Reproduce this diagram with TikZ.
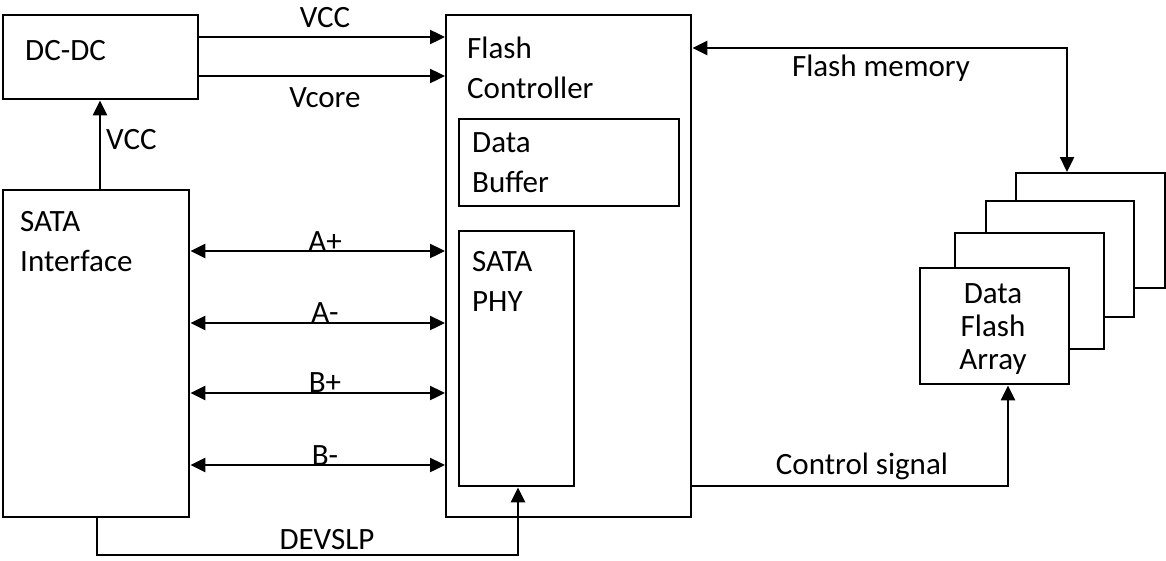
\documentclass[tikz,border=0pt]{standalone}
\usepackage{fontspec}
\setmainfont{Carlito}
\usetikzlibrary{arrows.meta}
\begin{document}
\begin{tikzpicture}[x=1pt,y=-1pt,line width=2.4pt,
  box/.style={draw,line width=2.4pt,inner sep=0pt,anchor=north west,fill=white},
  lbl/.style={font=\fontsize{31}{40}\selectfont,inner sep=0pt},
  arr/.style={-{Triangle[length=15pt,width=14pt]}},
  darr/.style={{Triangle[length=15pt,width=14pt]}-{Triangle[length=15pt,width=14pt]}}]
\useasboundingbox (0,0) rectangle (1166,560);
% boxes
\node[box,minimum width=195pt,minimum height=84pt] (dcdc) at (2,14) {};
\node[box,minimum width=186pt,minimum height=327pt] (sata) at (2,189) {};
\node[box,minimum width=245pt,minimum height=502pt] (fc) at (445,14) {};
\node[box,minimum width=220pt,minimum height=87pt] (buf) at (458,118) {};
\node[box,minimum width=115pt,minimum height=255pt] (phy) at (458,230) {};
\node[box,minimum width=149pt,minimum height=115pt] (s4) at (1015,172) {};
\node[box,minimum width=148pt,minimum height=116pt] (s3) at (985,200) {};
\node[box,minimum width=149pt,minimum height=116pt] (s2) at (954,232) {};
\node[box,minimum width=149pt,minimum height=116pt] (front) at (919,267) {};
% box texts
\node[lbl,anchor=west] (tdcdc) at (24,51) {DC-DC};
\node[lbl,anchor=north west,align=left] (tsata) at (19,210) {SATA\\Interface};
\node[lbl,anchor=north west,align=left] (tfc) at (466,36) {Flash\\Controller};
\node[lbl,anchor=north west,align=left] (tbuf) at (471,131) {Data\\Buffer};
\node[lbl,anchor=north west,align=left] (tphy) at (471,250) {SATA\\PHY};
\node[lbl,align=center,font=\fontsize{31}{33}\selectfont] (tfront) at (993,329) {Data\\Flash\\Array};
% helper coordinates
\coordinate (yvcc) at (0,37);
\coordinate (yvcore) at (0,76);
\coordinate (xv) at (100,0);
\coordinate (yap) at (0,251);
\coordinate (yam) at (0,323);
\coordinate (ybp) at (0,393);
\coordinate (ybm) at (0,465);
\coordinate (fm) at (1067,48);
\coordinate (cs) at (1008,486);
\coordinate (d1) at (97,555);
\coordinate (d2) at (518,555);
% connectors
\draw[arr] (dcdc.east |- yvcc) -- (fc.west |- yvcc);
\draw[arr] (dcdc.east |- yvcore) -- (fc.west |- yvcore);
\draw[arr] (sata.north -| xv) -- (dcdc.south -| xv);
\draw[darr] (sata.east |- yap) -- (fc.west |- yap);
\draw[darr] (sata.east |- yam) -- (fc.west |- yam);
\draw[darr] (sata.east |- ybp) -- (fc.west |- ybp);
\draw[darr] (sata.east |- ybm) -- (fc.west |- ybm);
\draw[darr] (fc.east |- fm) -- (fm) -- (fm |- s4.north);
\draw[arr] (fc.east |- cs) -- (cs) -- (cs |- front.south);
\draw[arr] (sata.south -| d1) -- (d1) -- (d2) -- (d2 |- phy.south);
% connector labels
\node[lbl] (lvcc) at (325,18) {VCC};
\node[lbl] (lvcore) at (325,98) {Vcore};
\node[lbl,anchor=west] (lvcc2) at (105,140) {VCC};
\node[lbl] (lap) at (325,242) {A+};
\node[lbl] (lam) at (325,313) {A-};
\node[lbl] (lbp) at (325,383) {B+};
\node[lbl] (lbm) at (325,456) {B-};
\node[lbl] (lfm) at (881,68) {Flash memory};
\node[lbl] (lcs) at (862,466) {Control signal};
\node[lbl] (ldev) at (327,540) {DEVSLP};
\end{tikzpicture}
\end{document}
